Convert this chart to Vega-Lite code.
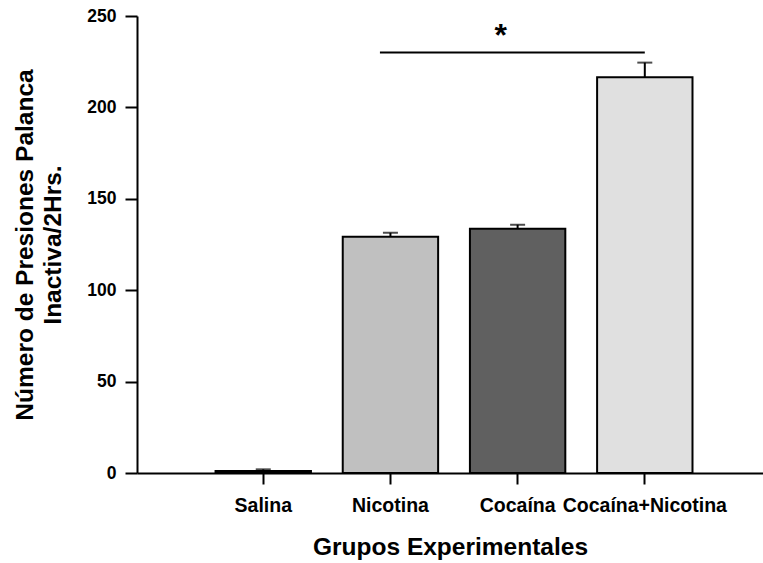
{
  "$schema": "https://vega.github.io/schema/vega-lite/v6.json",
  "width": 626,
  "height": 457,
  "autosize": {"type": "none"},
  "padding": {"left": 137, "top": 16, "right": 0, "bottom": 90},
  "background": "white",
  "config": {"view": {"stroke": null}, "font": "Liberation Sans"},
  "datasets": {
    "grupos": [
      {"grupo": "Salina", "media": 1.1, "sup": 2},
      {"grupo": "Nicotina", "media": 129.2, "sup": 131.4},
      {"grupo": "Cocaína", "media": 133.6, "sup": 135.8},
      {"grupo": "Cocaína+Nicotina", "media": 216.5, "sup": 224.5}
    ],
    "sig": [
      {"desde": "Nicotina", "hasta": "Cocaína+Nicotina", "nivel": 230.1, "marca": "*", "pos": "Cocaína", "nivel_marca": 236}
    ]
  },
  "encoding": {
    "x": {
      "field": "grupo",
      "type": "nominal",
      "sort": ["Salina", "Nicotina", "Cocaína", "Cocaína+Nicotina"],
      "scale": {"domain": ["Salina", "Nicotina", "Cocaína", "Cocaína+Nicotina"], "paddingInner": 0.25, "paddingOuter": 0.586, "align": 0.527},
      "axis": {
        "title": "Grupos Experimentales",
        "labelAngle": 0,
        "labelFont": "Liberation Sans",
        "labelFontWeight": "bold",
        "labelFontSize": 19.5,
        "labelColor": "black",
        "labelPadding": 12,
        "titleFont": "Liberation Sans",
        "titleFontWeight": "bold",
        "titleFontSize": 24.5,
        "titleColor": "black",
        "titlePadding": 21,
        "domainColor": "black",
        "domainWidth": 2,
        "tickColor": "black",
        "tickWidth": 2,
        "tickSize": 11
      }
    }
  },
  "layer": [
    {
      "data": {"name": "grupos"},
      "mark": {"type": "bar", "stroke": "black", "strokeWidth": 2},
      "encoding": {
        "y": {
          "field": "media",
          "type": "quantitative",
          "scale": {"domain": [0, 250], "nice": false},
          "axis": {
            "title": ["Número de Presiones Palanca", "Inactiva/2Hrs."],
            "values": [0, 50, 100, 150, 200, 250],
            "grid": false,
            "labelFont": "Liberation Sans",
            "labelFontWeight": "bold",
            "labelFontSize": 17.5,
            "labelColor": "black",
            "labelPadding": 9,
            "titleFont": "Liberation Sans",
            "titleFontWeight": "bold",
            "titleFontSize": 24.5,
            "titleColor": "black",
            "titlePadding": 21,
            "titleLineHeight": 28,
            "domainColor": "black",
            "domainWidth": 2,
            "tickColor": "black",
            "tickWidth": 2,
            "tickSize": 12
          }
        },
        "color": {
          "field": "grupo",
          "type": "nominal",
          "scale": {"domain": ["Salina", "Nicotina", "Cocaína", "Cocaína+Nicotina"], "range": ["#000000", "#c0c0c0", "#606060", "#e0e0e0"]},
          "legend": null
        }
      }
    },
    {
      "data": {"name": "grupos"},
      "mark": {"type": "rule", "color": "black", "strokeWidth": 2},
      "encoding": {
        "y": {"field": "media", "type": "quantitative"},
        "y2": {"field": "sup"}
      }
    },
    {
      "data": {"name": "grupos"},
      "mark": {"type": "tick", "color": "black", "thickness": 2, "size": 15, "orient": "horizontal"},
      "encoding": {
        "y": {"field": "sup", "type": "quantitative"}
      }
    },
    {
      "data": {"name": "sig"},
      "mark": {"type": "rule", "color": "black", "strokeWidth": 2},
      "encoding": {
        "x": {"field": "desde", "type": "nominal", "bandPosition": 0.39},
        "x2": {"field": "hasta", "bandPosition": 0.5},
        "y": {"field": "nivel", "type": "quantitative"}
      }
    },
    {
      "data": {"name": "sig"},
      "mark": {"type": "text", "font": "Liberation Sans", "fontWeight": "bold", "fontSize": 32, "color": "black", "dx": -17, "dy": -6},
      "encoding": {
        "x": {"field": "pos", "type": "nominal"},
        "y": {"field": "nivel_marca", "type": "quantitative"},
        "text": {"field": "marca"}
      }
    }
  ]
}
